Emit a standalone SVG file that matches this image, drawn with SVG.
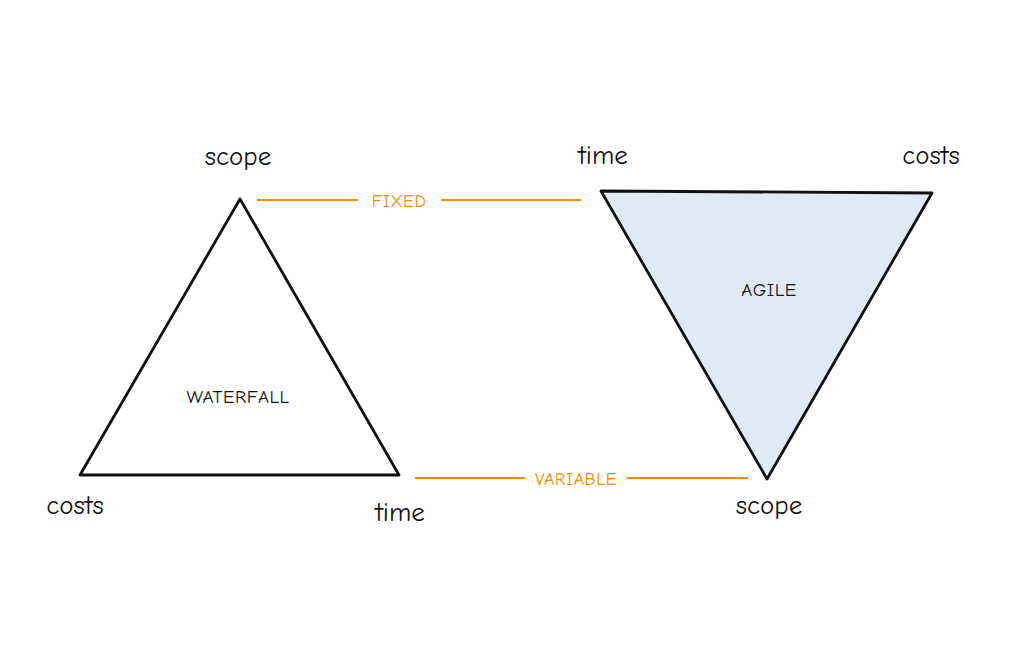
<svg xmlns="http://www.w3.org/2000/svg" width="1024" height="658" viewBox="0 0 1024 658">
<style>
.lbl{font-family:"Comic Neue","Liberation Sans",sans-serif;font-size:27px;fill:#111111;text-anchor:middle}
.inner{font-family:"Comic Neue","Liberation Sans",sans-serif;font-size:19px;fill:#111111;text-anchor:middle;letter-spacing:0.5px}
.tri{stroke:#111111;stroke-width:2.8;stroke-linejoin:round}
.con{stroke:#f08c00;stroke-width:2.2;fill:none}
.clbl{font-family:"Comic Neue","Liberation Sans",sans-serif;font-size:18px;fill:#f08c00;text-anchor:middle;letter-spacing:0.5px}
</style>
<rect width="1024" height="658" fill="#ffffff"/>
<g id="waterfall">
<polygon class="tri" points="240,199 399,475 80,475" fill="#ffffff"/>
<text class="inner" x="238" y="403">WATERFALL</text>
</g>
<g id="agile">
<polygon class="tri" points="601,191 932,193 767,479" fill="#dfeaf6"/>
<text class="inner" x="769" y="296">AGILE</text>
</g>
<g id="labels">
<text class="lbl" x="238" y="165">scope</text>
<text class="lbl" x="603" y="164">time</text>
<text class="lbl" x="931" y="164">costs</text>
<text class="lbl" x="75" y="514">costs</text>
<text class="lbl" x="400" y="521">time</text>
<text class="lbl" x="769" y="514">scope</text>
</g>
<g id="connectors">
<line class="con" x1="257" y1="200" x2="358" y2="200"/>
<line class="con" x1="441" y1="200" x2="581" y2="200"/>
<text class="clbl" x="399" y="207">FIXED</text>
<line class="con" x1="415" y1="478" x2="525" y2="478"/>
<line class="con" x1="627" y1="478" x2="748" y2="478"/>
<text class="clbl" x="576" y="485">VARIABLE</text>
</g>
</svg>
